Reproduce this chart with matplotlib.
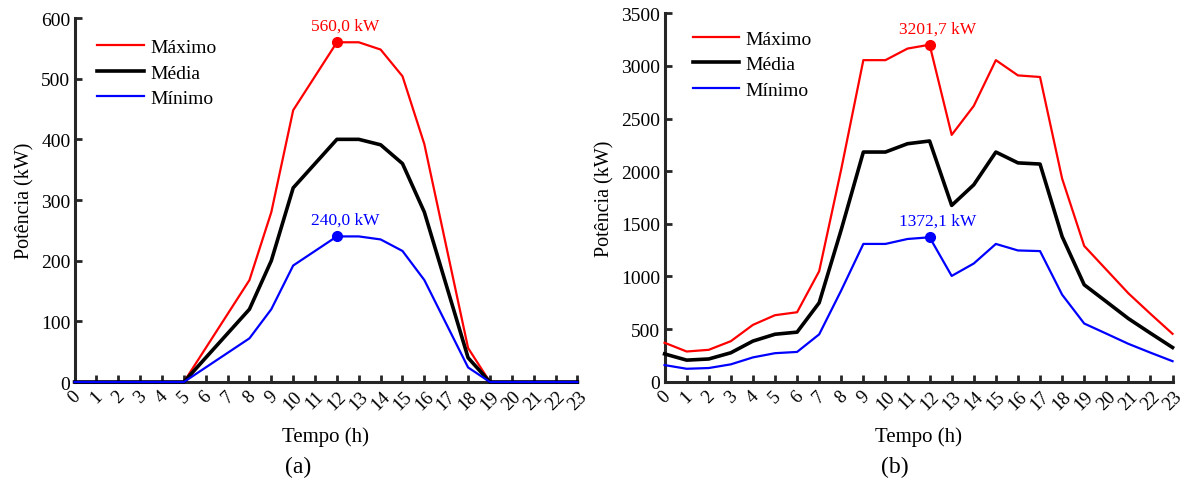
import matplotlib
matplotlib.use('Agg')
from matplotlib import pyplot as plt

## Data section
horas = list(range(24))

# (a) geração FV (kW)
fv_max   = [0, 0, 0, 0, 0, 0, 56, 112, 168, 280, 448, 504,
            560, 560, 548, 504, 392, 224, 56, 0, 0, 0, 0, 0]
fv_media = [0, 0, 0, 0, 0, 0, 40, 80, 120, 200, 320, 360,
            400, 400, 391, 360, 280, 160, 40, 0, 0, 0, 0, 0]
fv_min   = [0, 0, 0, 0, 0, 0, 24, 48, 72, 120, 192, 216,
            240, 240, 235, 216, 168, 96, 24, 0, 0, 0, 0, 0]

# (b) carga (kW)
carga_max   = [370, 287, 303, 385, 540, 632, 660, 1050, 2020, 3055, 3055, 3165,
               3201.7, 2345, 2620, 3055, 2910, 2895, 1930, 1290, 1065, 840, 645, 455]
carga_media = [264, 205, 216, 275, 386, 451, 471, 750, 1445, 2182, 2182, 2261,
               2287, 1675, 1871, 2182, 2079, 2068, 1379, 921, 761, 600, 461, 325]
carga_min   = [158, 123, 130, 165, 231, 271, 283, 450, 868, 1309, 1309, 1356,
               1372.1, 1005, 1123, 1309, 1247, 1241, 827, 553, 457, 360, 276, 195]

legends = ['Máximo', 'Média', 'Mínimo']
xlabel  = 'Tempo (h)'
ylabel  = 'Potência (kW)'

## Config section
plt.rcParams['font.family'] = ['Liberation Serif', 'DejaVu Serif']
spine_color = '#262626'

fig = plt.figure(figsize=(11.91, 4.85), dpi=100)
ax_a = fig.add_axes([0.0626, 0.2103, 0.4222, 0.7505])
ax_b = fig.add_axes([0.5580, 0.2109, 0.4265, 0.7596])


def fmt(v):
    return f'{v:.1f}'.replace('.', ',') + ' kW'


def draw(ax, ymax, ystep, s_max, s_med, s_min, leg_loc):
    ax.plot(horas, s_max, color='red', linewidth=1.6, label=legends[0],
            clip_on=False, zorder=3)
    ax.plot(horas, s_med, color='black', linewidth=2.6, label=legends[1],
            clip_on=False, zorder=3)
    ax.plot(horas, s_min, color='blue', linewidth=1.6, label=legends[2],
            clip_on=False, zorder=4)

    # picos
    for serie, cor in ((s_max, 'red'), (s_min, 'blue')):
        i = serie.index(max(serie))
        ax.plot(horas[i], serie[i], 'o', color=cor, markersize=7, zorder=5)
        ax.annotate(fmt(serie[i]), (horas[i], serie[i]),
                    xytext=(6, 6), textcoords='offset points',
                    ha='center', va='bottom', color=cor, fontsize=12.5)

    ax.set_xlim(0, 23)
    ax.set_ylim(0, ymax)
    ax.set_xticks(horas)
    ax.set_yticks(range(0, ymax + 1, ystep))
    ax.tick_params(axis='x', labelrotation=45, labelsize=13.5, pad=4)
    ax.tick_params(axis='y', labelsize=14, pad=3)
    ax.tick_params(direction='in', length=5, width=2, color=spine_color)
    for lab in ax.get_xticklabels():
        lab.set_ha('center')
    for side in ('top', 'right'):
        ax.spines[side].set_visible(False)
    for side in ('left', 'bottom'):
        ax.spines[side].set_linewidth(2.2)
        ax.spines[side].set_color(spine_color)
    ax.set_xlabel(xlabel, fontsize=15, labelpad=10)
    ax.set_ylabel(ylabel, fontsize=14.5, labelpad=5)
    ax.legend(loc='upper left', bbox_to_anchor=leg_loc, frameon=False,
              fontsize=14, handlelength=2.4, handletextpad=0.3,
              labelspacing=0.4, borderaxespad=0)


draw(ax_a, 600, 100, fv_max, fv_media, fv_min, (0.03, 0.965))
draw(ax_b, 3500, 500, carga_max, carga_media, carga_min, (0.04, 0.975))

fig.text(298 / 1191, 1 - 467 / 485, '(a)', ha='center', va='center', fontsize=17)
fig.text(895 / 1191, 1 - 467 / 485, '(b)', ha='center', va='center', fontsize=17)

plt.savefig('out.png', dpi=100)
plt.close()
